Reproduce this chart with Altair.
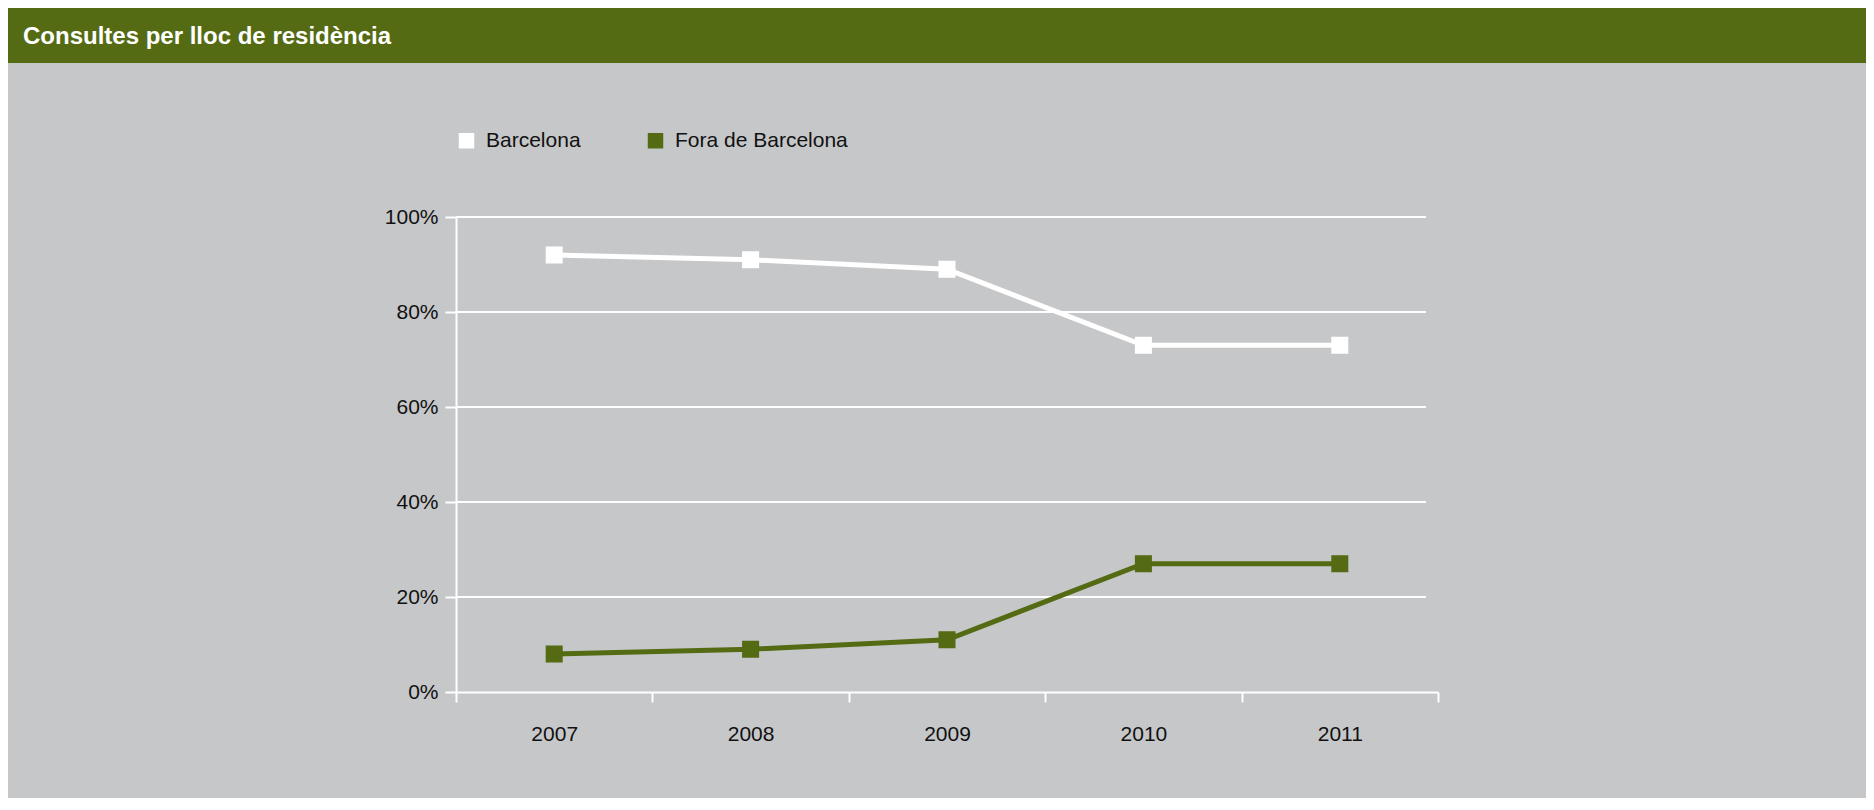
import altair as alt
import pandas as pd

# ---- data ----
years = ["2007", "2008", "2009", "2010", "2011"]
barcelona = [92, 91, 89, 73, 73]
fora = [8, 9, 11, 27, 27]
series_names = ["Barcelona", "Fora de Barcelona"]
y_ticks = [0, 20, 40, 60, 80, 100]
title_text = "Consultes per lloc de residència"

GREEN = "#546b13"
GREY = "#c6c7c9"
WHITE = "#ffffff"
FONT = "Liberation Sans"

df = pd.DataFrame({
    "year": years * 2,
    "serie": [series_names[0]] * len(years) + [series_names[1]] * len(years),
    "value": barcelona + fora,
})

W, H = 982, 475
PAD = dict(left=448, top=209, right=428, bottom=106)

y_scale = alt.Scale(domain=[0, 100], nice=False)
y_axis = alt.Axis(values=y_ticks, labelExpr="datum.value + '%'", title=None,
                  tickSize=11, tickWidth=2, tickColor=WHITE,
                  domainColor=WHITE, domainWidth=2, labelPadding=7,
                  labelFontSize=21, labelFont=FONT, labelColor="#111",
                  grid=False)
x_enc = alt.X("year:O", bandPosition=0.5,
              scale=alt.Scale(type="band", paddingInner=0, paddingOuter=0),
              axis=alt.Axis(title=None, labelAngle=0, tickBand="extent",
                            tickSize=10, tickWidth=2, tickColor=WHITE,
                            domainColor=WHITE, domainWidth=2, labelPadding=21,
                            labelFontSize=21, labelFont=FONT, labelColor="#111",
                            grid=False))
color_scale = alt.Scale(domain=series_names, range=[WHITE, GREEN])

legend = alt.Legend(title=None, orient="top", offset=66,
                    direction="horizontal", symbolType="square",
                    symbolSize=240, symbolStrokeWidth=0, symbolOpacity=1,
                    labelFontSize=21, labelFont=FONT, labelColor="#111",
                    labelLimit=400, labelOffset=9, columnPadding=64, padding=0)

head = pd.DataFrame({"t": [title_text]})
bar = alt.Chart(head).mark_rect(color=GREEN).encode(
    x=alt.value(-PAD["left"]), x2=alt.value(W + PAD["right"]),
    y=alt.value(-PAD["top"]), y2=alt.value(-154))
title = alt.Chart(head).mark_text(align="left", baseline="alphabetic", fontSize=24,
                                  fontWeight="bold", color=WHITE, font=FONT).encode(
    x=alt.value(-433), y=alt.value(-173), text="t:N")

grid = alt.Chart(pd.DataFrame({"value": y_ticks[1:]})).mark_rule(
    color=WHITE, strokeWidth=2).encode(
    y=alt.Y("value:Q", scale=y_scale, axis=y_axis),
    x=alt.value(0), x2=alt.value(W - 12))

base = alt.Chart(df).encode(
    x=x_enc,
    y=alt.Y("value:Q", scale=y_scale, axis=y_axis),
    color=alt.Color("serie:N", scale=color_scale, legend=legend),
)
lines = base.mark_line(strokeWidth=5)
points = base.mark_point(shape="square", size=290, filled=True, opacity=1)

chart = alt.layer(bar, title, grid, lines, points).properties(
    width=W, height=H, padding=PAD,
    autosize=alt.AutoSizeParams(type="none"),
).configure(background=GREY).configure_view(stroke=None)

chart.save("out.html", embed_options={"renderer": "svg", "actions": False})
